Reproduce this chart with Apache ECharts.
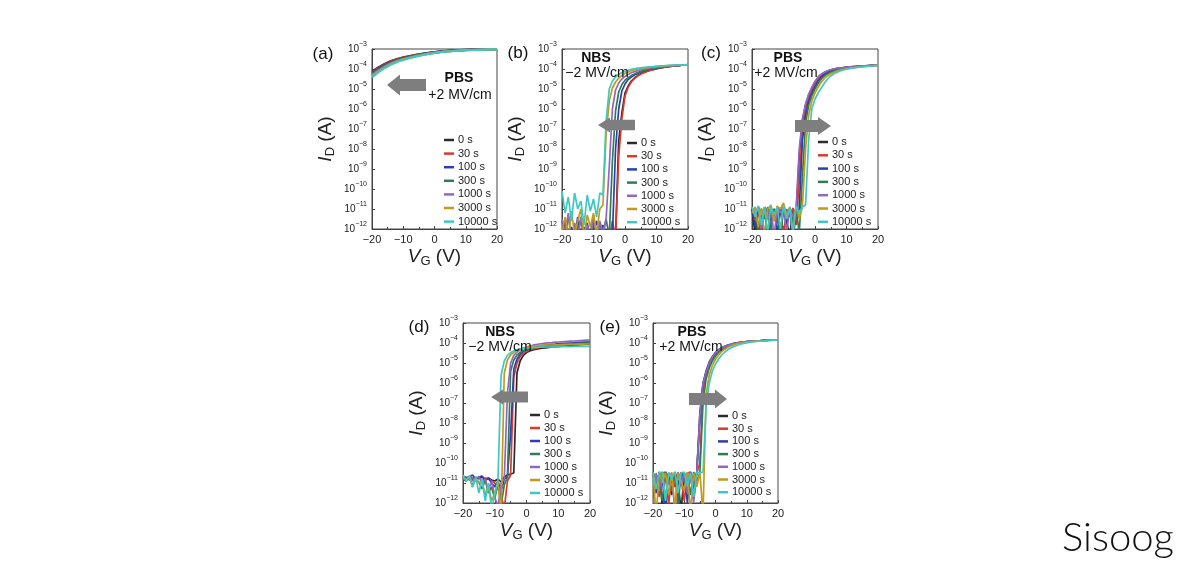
<!DOCTYPE html>
<html><head><meta charset="utf-8">
<script src="https://cdn.jsdelivr.net/npm/echarts@6/dist/echarts.min.js"></script>
<style>html,body{margin:0;padding:0;background:#fff}#c{width:1200px;height:576px}</style>
</head><body><div id="c"></div>
<script>
// ---------------- DATA (log10 of drain current I_D in A) ----------------
const timeNames = ['0 s','30 s','100 s','300 s','1000 s','3000 s','10000 s'];
const panelLetters = ['(a)','(b)','(c)','(d)','(e)'];
const stressNames = ['PBS','NBS','PBS','NBS','PBS'];
const fieldNames = ['+2 MV/cm','\u22122 MV/cm','+2 MV/cm','\u22122 MV/cm','+2 MV/cm'];
const yDecades = [-12,-11,-10,-9,-8,-7,-6,-5,-4,-3];

// gate voltage grids (V)
const vgA = [-20,-18,-16,-14,-12,-10,-8,-6,-4,-2,0,2,4,6,8,10,12,14,16,18,20];
const vg = [-20,-19,-18,-17,-16,-15,-14,-13,-12,-11,-10,-9,-8,-7,-6,-5,-4,-3,-2,-1,0,1,2,3,4,5,6,7,8,9,10,11,12,13,14,15,16,17,18,19,20];

// (a) PBS
const a_0s    = [-4.12,-3.92,-3.75,-3.60,-3.50,-3.42,-3.35,-3.29,-3.24,-3.19,-3.15,-3.12,-3.09,-3.07,-3.06,-3.04,-3.03,-3.02,-3.02,-3.01,-3.01];
const a_30s   = [-4.16,-3.95,-3.78,-3.63,-3.52,-3.44,-3.37,-3.31,-3.25,-3.20,-3.16,-3.13,-3.10,-3.08,-3.06,-3.05,-3.04,-3.03,-3.02,-3.01,-3.01];
const a_100s  = [-4.20,-3.99,-3.81,-3.66,-3.55,-3.46,-3.39,-3.32,-3.26,-3.21,-3.17,-3.13,-3.10,-3.08,-3.06,-3.05,-3.04,-3.03,-3.02,-3.02,-3.01];
const a_300s  = [-4.25,-4.03,-3.85,-3.69,-3.57,-3.48,-3.40,-3.33,-3.27,-3.22,-3.18,-3.14,-3.11,-3.09,-3.07,-3.05,-3.04,-3.03,-3.02,-3.02,-3.01];
const a_1000s = [-4.30,-4.07,-3.88,-3.72,-3.60,-3.50,-3.42,-3.35,-3.29,-3.23,-3.19,-3.15,-3.12,-3.09,-3.07,-3.06,-3.04,-3.03,-3.03,-3.02,-3.01];
const a_3000s = [-4.36,-4.12,-3.92,-3.75,-3.62,-3.52,-3.44,-3.36,-3.30,-3.24,-3.19,-3.15,-3.12,-3.10,-3.08,-3.06,-3.05,-3.04,-3.03,-3.02,-3.02];
const a_10000s= [-4.42,-4.17,-3.96,-3.79,-3.65,-3.55,-3.46,-3.38,-3.31,-3.25,-3.20,-3.16,-3.13,-3.10,-3.08,-3.06,-3.05,-3.04,-3.03,-3.02,-3.02];

// (b) NBS
const b_0s    = [-12.4,-12.6,-12.3,-12.5,-12.2,-12.6,-12.4,-11.9,-12.5,-12.3, -12.6,-12.2,-12.5,-12.4,-12.3,-12.6,-12.5,-12.4,-7.6,-6.2, -5.2,-4.85,-4.6,-4.45,-4.33,-4.24,-4.17,-4.11,-4.06,-4.02,-3.98,-3.95,-3.92,-3.9,-3.88,-3.86,-3.84,-3.83,-3.81,-3.8,-3.79];
const b_30s   = [-12.5,-11.6,-12.4,-12.7,-12.3,-11.8,-12.6,-12.4,-12.2,-12.6, -11.7,-12.5,-12.3,-12.6,-12.1,-12.5,-11.6,-12.4,-8.4,-6.5, -5.35,-4.92,-4.65,-4.48,-4.35,-4.26,-4.18,-4.12,-4.07,-4.03,-3.99,-3.96,-3.93,-3.9,-3.88,-3.86,-3.84,-3.83,-3.81,-3.8,-3.79];
const b_100s  = [-12.3,-11.5,-12.6,-11.9,-12.4,-11.4,-12.5,-12.2,-11.7,-12.6, -12.1,-11.6,-12.5,-11.8,-12.4,-12.0,-12.3,-8.0,-6.0,-5.1, -4.75,-4.53,-4.4,-4.3,-4.22,-4.15,-4.1,-4.05,-4.01,-3.98,-3.95,-3.93,-3.91,-3.89,-3.87,-3.85,-3.84,-3.82,-3.81,-3.8,-3.79];
const b_300s  = [-11.6,-12.4,-11.3,-12.5,-11.8,-12.3,-11.5,-12.6,-11.9,-12.2, -11.4,-12.5,-11.7,-12.3,-11.5,-12.4,-8.6,-6.1,-5.15,-4.78, -4.56,-4.43,-4.33,-4.25,-4.18,-4.12,-4.07,-4.03,-4.0,-3.97,-3.94,-3.92,-3.9,-3.88,-3.86,-3.85,-3.83,-3.82,-3.81,-3.8,-3.78];
const b_1000s = [-11.5,-12.3,-11.2,-12.6,-11.7,-12.4,-11.4,-12.2,-11.8,-12.5, -11.3,-12.4,-11.6,-12.2,-11.5,-8.9,-6.0,-5.05,-4.7,-4.5, -4.37,-4.27,-4.19,-4.13,-4.08,-4.04,-4.0,-3.97,-3.95,-3.93,-3.91,-3.89,-3.88,-3.86,-3.85,-3.84,-3.83,-3.82,-3.81,-3.8,-3.79];
const b_3000s = [-12.2,-11.4,-12.5,-11.1,-12.3,-11.6,-11.0,-12.4,-11.3,-11.9, -11.2,-12.3,-11.0,-10.8,-7.3,-5.6,-4.95,-4.65,-4.45,-4.32, -4.22,-4.15,-4.09,-4.04,-4.0,-3.97,-3.95,-3.93,-3.91,-3.89,-3.88,-3.86,-3.85,-3.84,-3.83,-3.82,-3.81,-3.8,-3.8,-3.79,-3.78];
const b_10000s= [-10.1,-11.2,-10.4,-11.6,-10.2,-11.0,-10.6,-11.8,-10.3,-11.1, -10.5,-11.4,-10.2,-10.3,-6.6,-5.0,-4.6,-4.4,-4.27,-4.18, -4.11,-4.06,-4.02,-3.99,-3.96,-3.94,-3.92,-3.9,-3.89,-3.88,-3.86,-3.85,-3.84,-3.83,-3.82,-3.81,-3.81,-3.8,-3.79,-3.79,-3.78];

// (c) PBS
const c_0s    = [-11.0,-12.3,-10.95,-11.8,-11.0,-12.5,-11.05,-11.4,-10.95,-12.2, -11.0,-11.6,-12.4,-11.0,-11.3,-8.3,-6.6,-5.8,-5.3,-4.95, -4.65,-4.42,-4.27,-4.17,-4.1,-4.04,-4.0,-3.97,-3.95,-3.93,-3.91,-3.9,-3.88,-3.87,-3.86,-3.85,-3.84,-3.83,-3.82,-3.81,-3.8];
const c_30s   = [-10.95,-11.5,-11.0,-12.4,-10.9,-11.2,-12.1,-11.0,-11.7,-10.95, -12.3,-11.0,-11.4,-10.95,-11.8,-9.6,-7.0,-6.0,-5.45,-5.05, -4.75,-4.5,-4.32,-4.21,-4.13,-4.07,-4.02,-3.99,-3.96,-3.94,-3.92,-3.9,-3.89,-3.88,-3.86,-3.85,-3.84,-3.83,-3.82,-3.81,-3.8];
const c_100s  = [-11.0,-11.9,-10.9,-11.3,-12.4,-10.95,-11.6,-11.0,-12.2,-11.1, -10.95,-11.8,-11.0,-12.5,-11.2,-11.0,-7.6,-6.3,-5.6,-5.2, -4.88,-4.6,-4.4,-4.27,-4.18,-4.11,-4.06,-4.02,-3.99,-3.96,-3.94,-3.92,-3.9,-3.89,-3.87,-3.86,-3.85,-3.84,-3.83,-3.82,-3.81];
const c_300s  = [-11.1,-10.95,-12.3,-11.0,-11.5,-10.9,-12.0,-11.0,-11.3,-12.5, -11.0,-11.2,-10.95,-11.7,-11.0,-12.2,-9.4,-6.7,-5.8,-5.35, -5.0,-4.72,-4.5,-4.35,-4.24,-4.16,-4.1,-4.05,-4.01,-3.98,-3.95,-3.93,-3.91,-3.9,-3.88,-3.87,-3.85,-3.84,-3.83,-3.82,-3.81];
const c_1000s = [-10.9,-11.3,-10.85,-12.0,-10.9,-11.5,-10.85,-12.4,-10.9,-11.2, -10.85,-12.2,-10.9,-11.4,-10.95,-8.0,-6.5,-5.75,-5.25,-4.92, -4.62,-4.4,-4.26,-4.16,-4.09,-4.04,-4.0,-3.97,-3.95,-3.93,-3.91,-3.89,-3.88,-3.87,-3.86,-3.85,-3.84,-3.83,-3.82,-3.81,-3.8];
const c_3000s = [-11.2,-10.9,-11.9,-10.95,-12.3,-11.0,-10.8,-11.6,-10.85,-11.0, -10.7,-11.3,-10.9,-12.1,-10.8,-11.5,-10.9,-8.0,-6.3,-5.6, -5.2,-4.9,-4.65,-4.47,-4.34,-4.24,-4.16,-4.1,-4.05,-4.02,-3.99,-3.96,-3.94,-3.92,-3.9,-3.88,-3.87,-3.86,-3.84,-3.83,-3.82];
const c_10000s= [-10.9,-11.4,-10.85,-11.8,-10.9,-12.2,-10.85,-11.3,-10.9,-12.0, -10.85,-11.5,-10.9,-12.3,-10.85,-11.2,-10.9,-10.8,-7.5,-6.0, -5.5,-5.2,-4.95,-4.7,-4.5,-4.35,-4.24,-4.16,-4.1,-4.05,-4.01,-3.98,-3.95,-3.93,-3.91,-3.89,-3.87,-3.86,-3.84,-3.83,-3.82];

// (d) NBS
const d_0s    = [-10.7,-10.75,-10.7,-10.8,-10.72,-10.78,-10.7,-10.8,-10.75,-10.85, -10.9,-10.8,-10.95,-10.7,-10.6,-10.55,-10.5,-5.5,-4.9,-4.62, -4.48,-4.4,-4.35,-4.31,-4.28,-4.26,-4.24,-4.22,-4.2,-4.19,-4.18,-4.16,-4.15,-4.13,-4.12,-4.11,-4.1,-4.08,-4.07,-4.06,-4.05];
const d_30s   = [-10.8,-10.7,-10.85,-10.75,-10.8,-10.7,-10.9,-10.75,-10.8,-10.9, -11.0,-11.3,-11.6,-12.3,-10.9,-10.6,-5.7,-5.0,-4.68,-4.52, -4.42,-4.35,-4.3,-4.26,-4.23,-4.2,-4.18,-4.16,-4.14,-4.13,-4.11,-4.1,-4.09,-4.07,-4.06,-4.05,-4.04,-4.03,-4.02,-4.01,-4.0];
const d_100s  = [-10.65,-10.75,-10.7,-10.6,-10.8,-10.7,-10.65,-10.9,-10.75,-11.0, -11.2,-10.9,-11.4,-10.8,-10.7,-8.5,-5.3,-4.8,-4.56,-4.42, -4.33,-4.27,-4.22,-4.18,-4.15,-4.13,-4.11,-4.09,-4.07,-4.06,-4.04,-4.03,-4.02,-4.01,-4.0,-3.99,-3.98,-3.97,-3.96,-3.95,-3.95];
const d_300s  = [-10.8,-10.9,-10.75,-11.1,-10.8,-10.95,-11.3,-10.85,-11.5,-11.2, -11.8,-11.0,-12.1,-11.1,-10.7,-5.4,-4.85,-4.6,-4.47,-4.38, -4.31,-4.26,-4.22,-4.19,-4.17,-4.15,-4.13,-4.12,-4.1,-4.09,-4.08,-4.07,-4.06,-4.05,-4.04,-4.03,-4.03,-4.02,-4.01,-4.0,-4.0];
const d_1000s = [-10.7,-10.8,-10.65,-10.9,-10.75,-10.7,-11.0,-10.8,-11.4,-10.9, -11.7,-12.2,-11.0,-10.8,-6.5,-5.0,-4.62,-4.45,-4.34,-4.26, -4.2,-4.15,-4.11,-4.08,-4.05,-4.03,-4.01,-3.99,-3.98,-3.96,-3.95,-3.94,-3.93,-3.92,-3.91,-3.9,-3.89,-3.88,-3.87,-3.86,-3.85];
const d_3000s = [-10.75,-10.85,-10.7,-11.2,-10.8,-11.0,-10.9,-11.6,-11.1,-11.9, -11.5,-10.9,-12.6,-5.5,-4.85,-4.6,-4.46,-4.37,-4.3,-4.25, -4.21,-4.18,-4.16,-4.14,-4.13,-4.12,-4.11,-4.1,-4.1,-4.09,-4.09,-4.08,-4.08,-4.07,-4.07,-4.07,-4.06,-4.06,-4.06,-4.05,-4.05];
const d_10000s= [-10.6,-10.9,-10.65,-11.2,-10.7,-11.5,-10.8,-11.9,-11.0,-12.3, -11.6,-10.9,-5.6,-4.9,-4.62,-4.48,-4.4,-4.34,-4.3,-4.27, -4.25,-4.24,-4.23,-4.22,-4.21,-4.21,-4.2,-4.2,-4.19,-4.19,-4.19,-4.18,-4.18,-4.18,-4.18,-4.17,-4.17,-4.17,-4.17,-4.17,-4.16];

// (e) PBS
const e_0s    = [-10.5,-11.3,-10.45,-12.2,-10.5,-10.8,-11.6,-10.45,-10.9,-12.4, -10.5,-11.0,-10.45,-11.8,-10.5,-7.5,-6.0,-5.4,-4.95,-4.68, -4.48,-4.34,-4.24,-4.16,-4.1,-4.06,-4.02,-3.99,-3.97,-3.95,-3.93,-3.92,-3.91,-3.9,-3.89,-3.88,-3.87,-3.86,-3.86,-3.85,-3.85];
const e_30s   = [-10.45,-10.9,-11.7,-10.5,-10.45,-12.1,-10.6,-11.2,-10.5,-10.8, -11.9,-10.5,-10.45,-11.1,-10.5,-10.0,-6.4,-5.6,-5.1,-4.8, -4.58,-4.42,-4.3,-4.21,-4.14,-4.08,-4.04,-4.0,-3.98,-3.96,-3.94,-3.92,-3.91,-3.9,-3.89,-3.88,-3.87,-3.86,-3.86,-3.85,-3.85];
const e_100s  = [-10.5,-11.5,-10.45,-10.8,-12.3,-10.5,-11.0,-10.45,-11.7,-10.5, -10.6,-12.0,-10.5,-11.3,-10.45,-7.9,-6.1,-5.5,-5.02,-4.72, -4.5,-4.36,-4.25,-4.17,-4.11,-4.06,-4.02,-3.99,-3.97,-3.95,-3.93,-3.92,-3.91,-3.9,-3.89,-3.88,-3.87,-3.86,-3.86,-3.85,-3.85];
const e_300s  = [-10.45,-11.2,-10.5,-11.9,-10.45,-10.7,-11.4,-10.5,-12.2,-10.45, -11.0,-10.5,-11.6,-10.45,-10.9,-10.5,-7.0,-5.8,-5.25,-4.9, -4.65,-4.47,-4.34,-4.24,-4.16,-4.1,-4.05,-4.01,-3.98,-3.96,-3.94,-3.92,-3.91,-3.9,-3.89,-3.88,-3.87,-3.86,-3.86,-3.85,-3.85];
const e_1000s = [-12.4,-10.5,-11.3,-10.45,-11.8,-10.5,-10.6,-12.5,-10.45,-11.1, -10.5,-11.5,-10.45,-12.0,-10.5,-7.6,-6.05,-5.45,-5.0,-4.7, -4.49,-4.35,-4.25,-4.17,-4.11,-4.06,-4.02,-3.99,-3.97,-3.95,-3.93,-3.92,-3.91,-3.9,-3.89,-3.88,-3.87,-3.86,-3.86,-3.85,-3.85];
const e_3000s = [-10.5,-12.6,-10.45,-11.0,-10.5,-11.6,-10.45,-12.3,-10.5,-10.9, -11.4,-10.45,-12.5,-10.5,-11.2,-10.45,-12.6,-6.6,-5.6,-5.12, -4.82,-4.6,-4.43,-4.31,-4.21,-4.14,-4.08,-4.04,-4.0,-3.97,-3.95,-3.93,-3.92,-3.91,-3.9,-3.89,-3.88,-3.87,-3.86,-3.86,-3.85];
const e_10000s= [-10.45,-11.3,-10.5,-10.45,-11.9,-10.5,-10.8,-10.45,-11.5,-10.5, -10.45,-11.1,-10.5,-11.7,-10.45,-10.5,-10.45,-7.2,-6.0,-5.4, -5.05,-4.8,-4.6,-4.45,-4.33,-4.24,-4.17,-4.11,-4.06,-4.02,-3.99,-3.96,-3.94,-3.92,-3.91,-3.9,-3.89,-3.88,-3.87,-3.86,-3.86];

const panelData = [
  {vg: vgA, curves: [a_0s,a_30s,a_100s,a_300s,a_1000s,a_3000s,a_10000s]},
  {vg: vg,  curves: [b_0s,b_30s,b_100s,b_300s,b_1000s,b_3000s,b_10000s]},
  {vg: vg,  curves: [c_0s,c_30s,c_100s,c_300s,c_1000s,c_3000s,c_10000s]},
  {vg: vg,  curves: [d_0s,d_30s,d_100s,d_300s,d_1000s,d_3000s,d_10000s]},
  {vg: vg,  curves: [e_0s,e_30s,e_100s,e_300s,e_1000s,e_3000s,e_10000s]}
];

// ---------------- STYLE / LAYOUT ----------------
const colors = ['#2b2b2b','#d93a2b','#2a3fb3','#2f7d50','#9067c2','#c29a1c','#3fc8c2'];
const FONT = 'Liberation Sans, Arial, sans-serif';
const layout = [
  {grid:{left:372,top:49,width:125,height:180}, leg:{left:444,top:134,gap:1.6}, letter:[323,54], title:[459,78], sub:[460,95], arrow:{dir:-1,tip:387,base:400,tail:426,cy:85,hh:10.5,sh:6}, lw:2.2},
  {grid:{left:562,top:49,width:126,height:180}, leg:{left:627,top:137,gap:1.2}, letter:[518,53], title:[596,58], sub:[597,73], arrow:{dir:-1,tip:598,base:610,tail:635,cy:125,hh:7.5,sh:5.3}, lw:1.7},
  {grid:{left:752,top:49,width:126,height:180}, leg:{left:818,top:136,gap:1.3}, letter:[711,53], title:[788,58], sub:[786,73], arrow:{dir:1,tip:831,base:818,tail:795,cy:126,hh:9,sh:6}, lw:1.7},
  {grid:{left:463,top:323,width:127,height:180}, leg:{left:530,top:409,gap:1.0}, letter:[419,327], title:[500,332], sub:[500,347], arrow:{dir:-1,tip:491,base:503,tail:528,cy:397,hh:7.5,sh:5.5}, lw:1.7},
  {grid:{left:653,top:323,width:125,height:180}, leg:{left:718,top:410,gap:0.7}, letter:[610,327], title:[692,332], sub:[691,347], arrow:{dir:1,tip:727,base:715,tail:689,cy:399,hh:9.5,sh:6}, lw:1.7}
];

function minusFmt(v){ return v < 0 ? '\u2212' + Math.abs(v) : String(v); }

const grids = [], xAxes = [], yAxes = [], legends = [], series = [], graphics = [];
layout.forEach((L, i) => {
  grids.push(Object.assign({show:true, borderColor:'#444', borderWidth:1, backgroundColor:'transparent'}, L.grid));
  xAxes.push({
    gridIndex:i, type:'value', min:-20, max:20, interval:10,
    axisLine:{onZero:false, lineStyle:{color:'#444', width:1}},
    axisTick:{inside:true, length:3, lineStyle:{color:'#444'}},
    minorTick:{show:true, splitNumber:2, length:2, lineStyle:{color:'#444'}},
    splitLine:{show:false},
    axisLabel:{fontSize:11, color:'#222', margin:5, fontFamily:FONT, formatter:minusFmt},
    name:'{i|V}{d|G}{n| (V)}', nameLocation:'middle', nameGap:17,
    nameTextStyle:{color:'#222', fontFamily:FONT, rich:{
      i:{fontSize:19, fontStyle:'italic', lineHeight:22, fontFamily:FONT},
      d:{fontSize:13, lineHeight:13, verticalAlign:'bottom', fontFamily:FONT},
      n:{fontSize:19, lineHeight:22, fontFamily:FONT}}}
  });
  yAxes.push({
    gridIndex:i, type:'value', min:yDecades[0], max:yDecades[yDecades.length-1], interval:1,
    axisLine:{onZero:false, lineStyle:{color:'#444', width:1}},
    axisTick:{inside:true, length:3, lineStyle:{color:'#444'}},
    splitLine:{show:false},
    axisLabel:{margin:5, formatter: v => '{b|10}{s|' + minusFmt(v) + '}',
      rich:{b:{fontSize:10, lineHeight:16, color:'#222', fontFamily:FONT},
            s:{fontSize:7, lineHeight:8, verticalAlign:'top', color:'#222', fontFamily:FONT}}},
    name:'{i|I}{d|D}{n| (A)}', nameLocation:'middle', nameGap:35, nameRotate:90,
    nameTextStyle:{color:'#222', fontFamily:FONT, rich:{
      i:{fontSize:19, fontStyle:'italic', lineHeight:22, fontFamily:FONT},
      d:{fontSize:13, lineHeight:13, verticalAlign:'bottom', fontFamily:FONT},
      n:{fontSize:19, lineHeight:22, fontFamily:FONT}}}
  });
  legends.push({
    data: timeNames, orient:'vertical', left:L.leg.left, top:L.leg.top, padding:0,
    itemWidth:10, itemHeight:2.5, itemGap:L.leg.gap, icon:'rect', selectedMode:false,
    textStyle:{fontSize:11, lineHeight:12, color:'#222', fontFamily:FONT, padding:[0,0,0,-1]}
  });
  const P = panelData[i];
  P.curves.forEach((arr, k) => {
    series.push({
      type:'line', name: timeNames[k], xAxisIndex:i, yAxisIndex:i,
      data: P.vg.map((x, j) => [x, arr[j]]),
      showSymbol:false, symbol:'none', clip:true, color: colors[k],
      lineStyle:{width:L.lw, color: colors[k]}, emphasis:{disabled:true}
    });
  });
  // annotations
  const A = L.arrow;
  graphics.push({type:'polygon', z:100, shape:{points:[
    [A.tip, A.cy],[A.base, A.cy - A.hh],[A.base, A.cy - A.sh],[A.tail, A.cy - A.sh],
    [A.tail, A.cy + A.sh],[A.base, A.cy + A.sh],[A.base, A.cy + A.hh]]},
    style:{fill:'#7e7e7e'}});
  graphics.push({type:'text', z:101, x:L.title[0], y:L.title[1], style:{text:stressNames[i], font:'bold 14px ' + FONT, fill:'#111', align:'center', verticalAlign:'middle'}});
  graphics.push({type:'text', z:101, x:L.sub[0], y:L.sub[1], style:{text:fieldNames[i], font:'14px ' + FONT, fill:'#111', align:'center', verticalAlign:'middle'}});
  graphics.push({type:'text', z:101, x:L.letter[0], y:L.letter[1], style:{text:panelLetters[i], font:'17px ' + FONT, fill:'#111', align:'center', verticalAlign:'middle'}});
});
graphics.push({type:'text', z:101, x:1118, y:538, style:{text:'Sisoog', font:'300 40px Lato, sans-serif', fill:'#111', align:'center', verticalAlign:'middle'}});

const chart = echarts.init(document.getElementById('c'), null, {renderer:'canvas'});
chart.setOption({
  backgroundColor:'#ffffff', animation:false,
  textStyle:{fontFamily:FONT},
  grid: grids, xAxis: xAxes, yAxis: yAxes, legend: legends, series: series, graphic: graphics
});
</script></body></html>
